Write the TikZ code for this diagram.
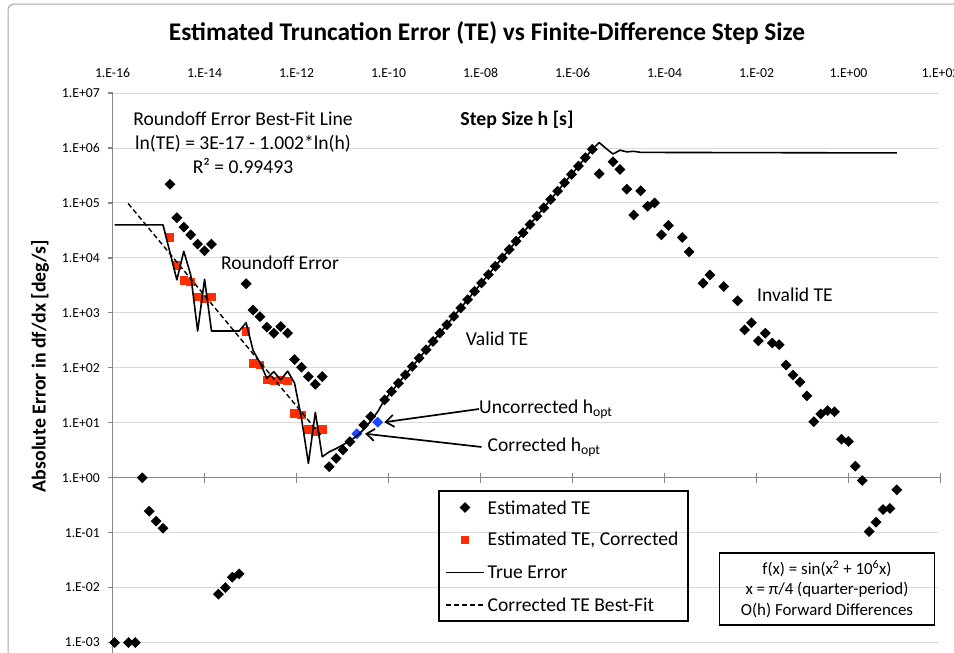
\documentclass[tikz,border=0pt]{standalone}
\usepackage{fontspec}
\setmainfont{Carlito}
\usetikzlibrary{arrows.meta,shapes.geometric}
\definecolor{gridCol}{RGB}{217,217,217}
\definecolor{axisCol}{RGB}{134,134,134}
\definecolor{frameCol}{RGB}{165,165,165}
\definecolor{corrCol}{RGB}{255,45,0}
\definecolor{hoptCol}{RGB}{25,70,255}
% log10(h) of the k-th step size, h = 2^(-53+k/2)
\newcommand{\hk}[1]{(-15.955+0.1505*(#1))}
\tikzset{
  gridln/.style={gridCol, line width=1pt},
  axisln/.style={axisCol, line width=1.2pt},
  tklab/.style={font=\fontsize{13.7}{16}\selectfont, inner sep=0pt},
  note/.style={font=\fontsize{19.6}{24}\selectfont, inner sep=0pt, align=center},
  axlab/.style={font=\fontsize{19.8}{24}\selectfont\bfseries, inner sep=0pt},
  teMark/.style={diamond, fill=black, inner sep=0pt, minimum size=11pt},
  corrMark/.style={rectangle, fill=corrCol, inner sep=0pt, minimum size=8.5pt},
  hoptMark/.style={diamond, fill=hoptCol, inner sep=0pt, minimum size=11pt},
  trueErr/.style={black, line width=1.6pt, line join=round},
  fitLn/.style={black, line width=1.4pt, dash pattern=on 5pt off 3pt},
  hoptArrow/.style={-{Straight Barb[length=8pt, width=12pt]}, line width=1.7pt},
  legbox/.style={draw, line width=1.2pt},
  infobox/.style={draw, line width=1.2pt, align=center, inner sep=0pt,
                  font=\fontsize{16.9}{20.5}\selectfont,
                  minimum width=215pt, minimum height=72pt},
}
\begin{document}
\begin{tikzpicture}[x=1pt, y=-1pt]
  \useasboundingbox (0,0) rectangle (954,653);
  \clip (0,0) rectangle (954,653);
  \draw[frameCol, line width=1pt, rounded corners=6pt] (8,4) rectangle (980,690);

  \node[font=\fontsize{25.4}{30}\selectfont\bfseries] (title) at (487,33)
    {Estimated Truncation Error (TE) vs Finite-Difference Step Size};

  % plot area: x = log10(h), y = log10(error)
  \begin{scope}[shift={(848.5,477.7)}, x=46pt, y=54.95pt]
    \foreach \e in {-3,-2,-1,1,2,3,4,5,6,7}
      \draw[gridln] (-16,\e) -- (1.95,\e);
    \draw[axisln] (-16,7) -- (-16,-3.3);
    \draw[axisln] (-16,0) -- (2,0);
    \foreach \e in {-3,...,7}
      \draw[axisln] (-16,\e) -- +(-5pt,0pt);
    \foreach \l in {-14,-12,...,2}
      \draw[axisln] (\l,0) +(0pt,-5pt) -- +(0pt,5pt);

    \foreach \e/\lab in {7/+07,6/+06,5/+05,4/+04,3/+03,2/+02,1/+01,0/+00,-1/-01,-2/-02,-3/-03}
      \node[tklab, anchor=east] at ([xshift=-12.5pt]-16,\e) {1.E\lab};
    \foreach \l/\lab in {-16/-16,-14/-14,-12/-12,-10/-10,-8/-08,-6/-06,-4/-04,-2/-02,0/+00,2/+02}
      \node[tklab] at ([yshift=20pt]\l,7) {1.E\lab};

    % estimated TE
    \foreach \k/\e in {0/-3, 2/-3, 3/-3, 4/0, 5/-0.61, 6/-0.79, 7/-0.92,
                       8/5.34, 9/4.73, 10/4.56, 11/4.42, 12/4.25, 13/4.13, 14/4.25,
                       15/-2.12, 16/-2.00, 17/-1.81, 18/-1.75,
                       19/3.53, 20/3.05, 21/2.93, 22/2.74, 23/2.63, 24/2.75, 25/2.63,
                       26/2.15, 27/2.01, 28/1.84, 29/1.70, 30/1.84}
      \node[teMark] at ({\hk{\k}},\e) {};
    \foreach \k in {31,32,33,34,36,37}
      \node[teMark] at ({\hk{\k}},{0.2+0.152*(\k-31)}) {};
    \foreach \k in {39,...,69}
      \node[teMark] at ({\hk{\k}},{0.2+0.152*(\k-31)}) {};
    \foreach \k/\e in {70/5.53, 72/5.75, 73/5.61, 74/5.25, 75/4.78, 76/5.22, 77/4.94,
                       78/5.00, 79/4.42, 80/4.59, 82/4.37, 83/4.11, 85/3.54, 86/3.69,
                       88/3.48, 90/3.22, 91/2.69, 92/2.82, 93/2.49, 94/2.63, 95/2.45,
                       96/2.42, 97/2.05, 98/1.87, 99/1.74, 100/1.49, 101/1.02, 102/1.16,
                       103/1.22, 104/1.20, 105/0.70, 106/0.66, 107/0.21, 108/-0.05,
                       109/-0.98, 110/-0.81, 111/-0.58, 112/-0.56, 113/-0.22}
      \node[teMark] at ({\hk{\k}},\e) {};

    % estimated TE, corrected
    \foreach \k/\e in {8/4.37, 9/3.86, 10/3.59, 11/3.56, 12/3.29, 13/3.25, 14/3.29,
                       19/2.66, 20/2.08, 21/2.05, 22/1.78, 23/1.76, 24/1.78, 25/1.76,
                       26/1.17, 27/1.14, 28/0.88, 29/0.84, 30/0.88}
      \node[corrMark] at ({\hk{\k}},\e) {};

    % optimal step sizes
    \node[hoptMark] (hoptC) at ({\hk{35}},0.80) {};
    \node[hoptMark] (hoptU) at ({\hk{38}},1.01) {};

    % true error
    \draw[trueErr] ({\hk{0}},4.60)
      foreach \k/\e in {7/4.60, 8/4.10, 9/3.60, 10/4.12, 11/3.69, 12/2.67, 13/3.61,
                        14/2.67, 18/2.67, 19/2.82, 20/2.32, 21/2.09, 22/1.81, 23/1.93,
                        24/1.78, 25/1.94, 26/1.72, 27/1.08, 28/0.26, 29/1.19, 30/0.38,
                        31/0.47, 32/0.53, 33/0.60, 34/0.67, 35/0.76, 36/0.88, 37/1.03,
                        38/1.20} {-- ({\hk{\k}},\e)}
      foreach \k in {39,...,69} {-- ({\hk{\k}},{0.2+0.152*(\k-31)})}
      foreach \k/\e in {70/6.10, 71/5.99, 72/5.89, 73/5.96, 74/5.93, 75/5.94,
                        76/5.92, 113/5.91} {-- ({\hk{\k}},\e)};

    % corrected TE best fit
    \draw[fitLn] (-15.66,4.99) -- (-11.45,0.75);
  \end{scope}

  \node[axlab] (stepLab) at (517,120) {Step Size h [s]};
  \node[axlab, rotate=90] (errLab) at (40,366) {Absolute Error in df/dx [deg/s]};

  \node[note] (fitNote) at (243,143)
    {Roundoff Error Best-Fit Line\\ln(TE) = 3E-17 - 1.002*ln(h)\\R² = 0.99493};
  \node[note] (roundNote) at (280,263) {Roundoff Error};
  \node[note] (validNote) at (497,339) {Valid TE};
  \node[note] (invalidNote) at (795,295) {Invalid TE};
  \node[note, anchor=west] (uncorrNote) at (479,409) {Uncorrected h\textsubscript{opt}};
  \node[note, anchor=west] (corrNote) at (487.5,447) {Corrected h\textsubscript{opt}};
  \draw[hoptArrow] (uncorrNote.west) -- ([xshift=1pt]hoptU.east);
  \draw[hoptArrow] ([xshift=-6pt]corrNote.west) -- ([xshift=2.5pt]hoptC.east);

  % legend
  \draw[legbox] (439,491) rectangle (688,621);
  \node[teMark] (legTE) at (465,507.5) {};
  \node[corrMark] (legCorr) at (465,540) {};
  \coordinate (legTrue) at (446,572.5);
  \coordinate (legFit) at (446,605);
  \draw[trueErr] (legTrue) -- ++(37.5,0);
  \draw[fitLn] (legFit) -- ++(37.5,0);
  \node[note, anchor=west] at (487.5,507.5) {Estimated TE};
  \node[note, anchor=west] at (487.5,540) {Estimated TE, Corrected};
  \node[note, anchor=west] at (487.5,572.5) {True Error};
  \node[note, anchor=west] at (487.5,605) {Corrected TE Best-Fit};

  \node[infobox] (fxBox) at (827,589)
    {f(x) = sin(x\textsuperscript{2} + 10\textsuperscript{6}x)\\
     x = π/4 (quarter-period)\\
     O(h) Forward Differences};
\end{tikzpicture}
\end{document}
